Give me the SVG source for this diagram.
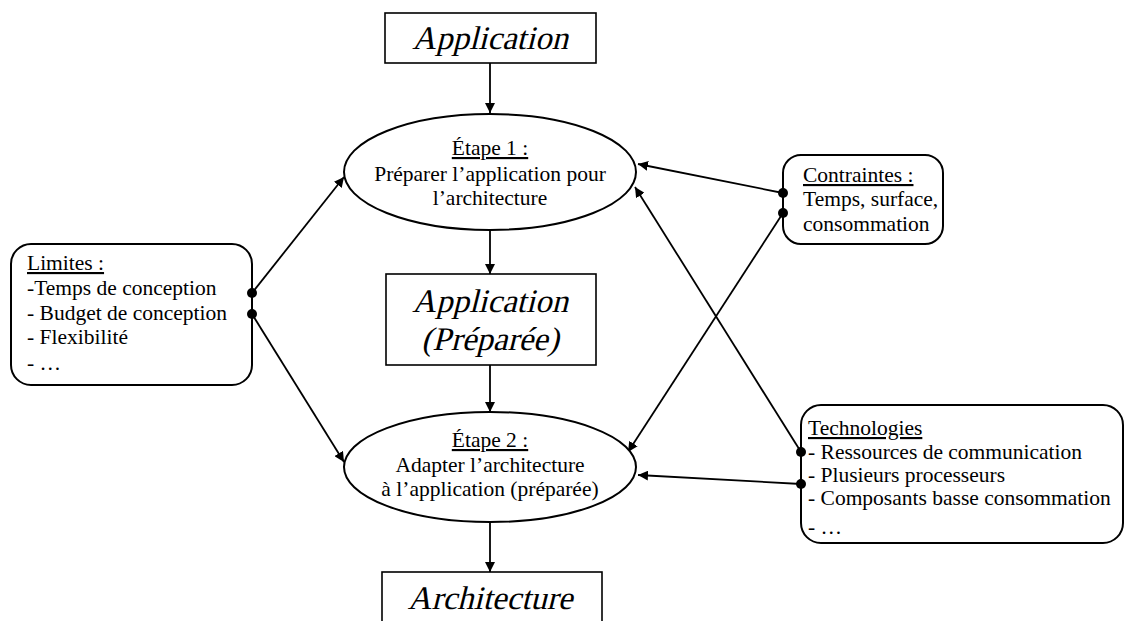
<svg xmlns="http://www.w3.org/2000/svg" width="1126" height="621" viewBox="0 0 1126 621">
  <defs>
    <marker id="arrow" viewBox="0 0 10 10" refX="10" refY="5" markerWidth="10" markerHeight="10" markerUnits="userSpaceOnUse" orient="auto">
      <path d="M0,0 L10,5 L0,10 z" fill="#000"/>
    </marker>
  </defs>
  <style>
    .box { fill: #fff; stroke: #000; stroke-width: 1.6; }
    .rbox { fill: #fff; stroke: #000; stroke-width: 2; }
    .ell { fill: #fff; stroke: #000; stroke-width: 2; }
    .big { font-family: "Liberation Serif", "Times New Roman", serif; font-size: 33px; text-anchor: middle; }
    .mid { font-family: "Liberation Serif", "Times New Roman", serif; font-size: 21.5px; text-anchor: middle; }
    .lst { font-family: "Liberation Serif", "Times New Roman", serif; font-size: 21.5px; }
    .u { text-decoration: underline; }
    .conn line { stroke: #000; stroke-width: 1.8; }
    .dot { fill: #000; }
  </style>
  <rect width="1126" height="621" fill="#fff"/>

  <!-- connectors -->
  <g id="connectors" class="conn">
    <line x1="490" y1="63" x2="490" y2="113" marker-end="url(#arrow)"/>
    <line x1="490" y1="230" x2="490" y2="274" marker-end="url(#arrow)"/>
    <line x1="490" y1="365" x2="490" y2="412" marker-end="url(#arrow)"/>
    <line x1="490" y1="522" x2="490" y2="572" marker-end="url(#arrow)"/>
    <line x1="252" y1="293" x2="344" y2="177" marker-end="url(#arrow)"/>
    <line x1="252" y1="314" x2="344" y2="462" marker-end="url(#arrow)"/>
    <line x1="783" y1="193" x2="638" y2="164" marker-end="url(#arrow)"/>
    <line x1="783" y1="213" x2="628" y2="452" marker-end="url(#arrow)"/>
    <line x1="801" y1="452" x2="635" y2="187" marker-end="url(#arrow)"/>
    <line x1="801" y1="484" x2="638" y2="475" marker-end="url(#arrow)"/>
  </g>

  <g id="application">
    <rect class="box" x="385" y="13" width="211" height="50"/>
    <!-- slanted by transform to get an italic look -->
    <text class="big" transform="translate(490,49) skewX(-14)">Application</text>
  </g>

  <g id="etape1">
    <ellipse class="ell" cx="490" cy="172" rx="146" ry="58"/>
    <text class="mid" x="490" y="155"><tspan class="u">Étape 1 :</tspan></text>
    <text class="mid" x="490" y="181">Préparer l’application pour</text>
    <text class="mid" x="490" y="205">l’architecture</text>
  </g>

  <g id="application-preparee">
    <rect class="box" x="386" y="274" width="210" height="91"/>
    <text class="big" transform="translate(490,312) skewX(-14)">Application</text>
    <text class="big" transform="translate(490,350) skewX(-14)">(Préparée)</text>
  </g>

  <g id="etape2">
    <ellipse class="ell" cx="490" cy="467" rx="146" ry="55"/>
    <text class="mid" x="490" y="447"><tspan class="u">Étape 2 :</tspan></text>
    <text class="mid" x="490" y="472">Adapter l’architecture</text>
    <text class="mid" x="490" y="496">à l’application (préparée)</text>
  </g>

  <g id="architecture">
    <rect class="box" x="382" y="572" width="220" height="60"/>
    <text class="big" transform="translate(490,609) skewX(-14)">Architecture</text>
  </g>

  <g id="limites">
    <rect class="rbox" x="11" y="244" width="241" height="141" rx="20" ry="20"/>
    <text class="lst" x="27" y="270"><tspan class="u">Limites :</tspan></text>
    <text class="lst" x="27" y="295">-Temps de conception</text>
    <text class="lst" x="27" y="320">- Budget de conception</text>
    <text class="lst" x="27" y="344">- Flexibilité</text>
    <text class="lst" x="27" y="370">- …</text>
    <circle class="dot" cx="252" cy="293" r="5"/>
    <circle class="dot" cx="252" cy="314" r="5"/>
  </g>

  <g id="contraintes">
    <rect class="rbox" x="783" y="155" width="160" height="89" rx="18" ry="18"/>
    <text class="lst" x="803" y="182"><tspan class="u">Contraintes :</tspan></text>
    <text class="lst" x="803" y="206">Temps, surface,</text>
    <text class="lst" x="803" y="231">consommation</text>
    <circle class="dot" cx="783" cy="193" r="5"/>
    <circle class="dot" cx="783" cy="213" r="5"/>
  </g>

  <g id="technologies">
    <rect class="rbox" x="801" y="405" width="322" height="138" rx="20" ry="20"/>
    <text class="lst" x="808" y="435"><tspan class="u">Technologies</tspan></text>
    <text class="lst" x="808" y="459">- Ressources de communication</text>
    <text class="lst" x="808" y="482">- Plusieurs processeurs</text>
    <text class="lst" x="808" y="505">- Composants basse consommation</text>
    <text class="lst" x="808" y="534">- …</text>
    <circle class="dot" cx="801" cy="452" r="5"/>
    <circle class="dot" cx="801" cy="484" r="5"/>
  </g>
</svg>
